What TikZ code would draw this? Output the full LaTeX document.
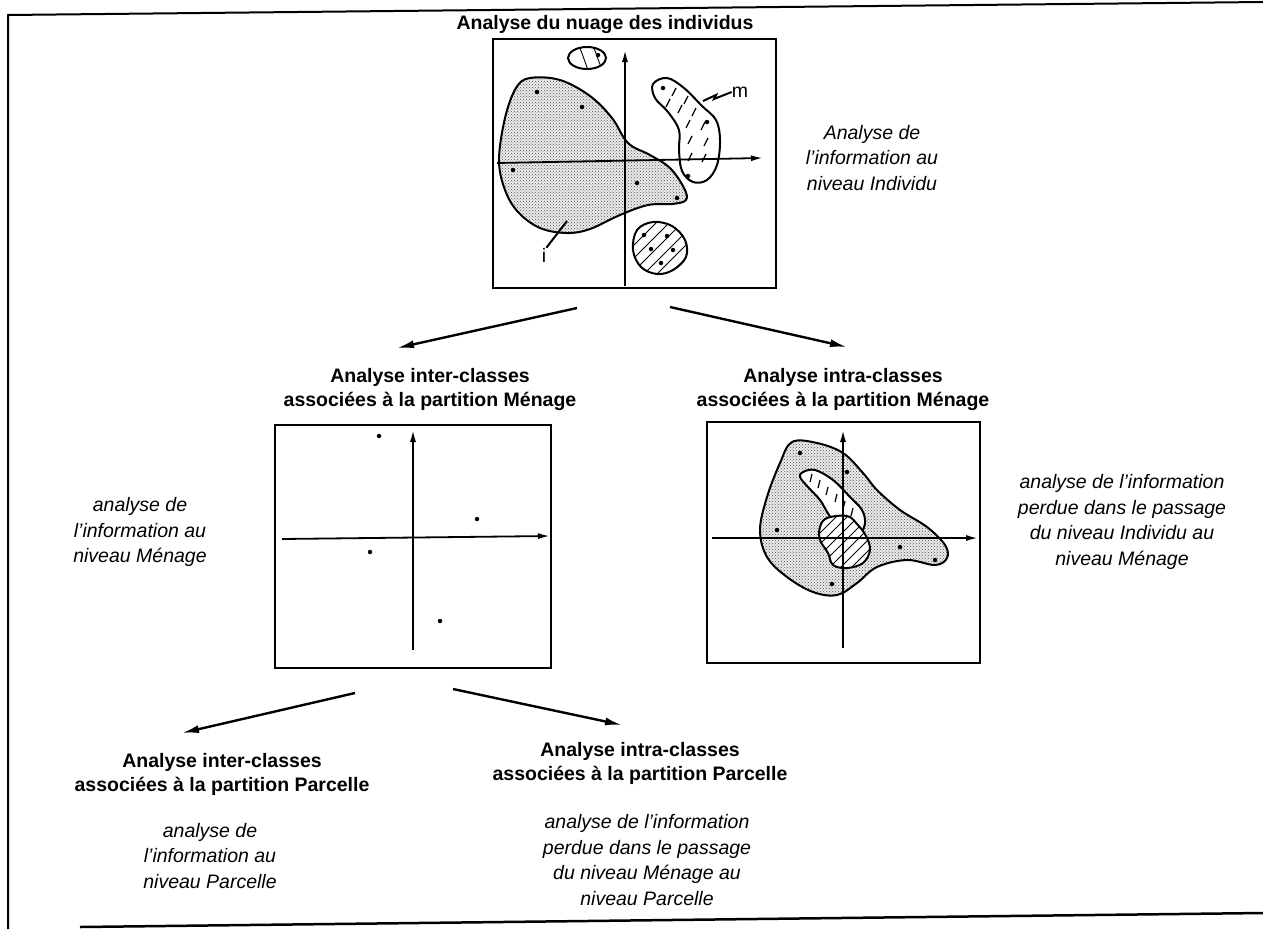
\documentclass[tikz,border=0pt]{standalone}
\usepackage{fontspec}
\setmainfont{Liberation Sans}
\usetikzlibrary{arrows.meta,patterns}
\newcommand{\apos}{\symbol{39}}
\begin{document}
\begin{tikzpicture}[x=1pt,y=-1pt,
 ttl/.style={font=\fontsize{19.5}{24}\selectfont\bfseries, align=center, inner sep=0pt},
 note/.style={font=\fontsize{19.5}{25.5}\selectfont\itshape, align=center, inner sep=0pt},
 lbl/.style={font=\fontsize{19.5}{24}\selectfont, inner sep=0pt},
 plotbox/.style={draw, line width=2pt},
 axis/.style={line width=1.8pt, -{Latex[length=12pt,width=6pt]}},
 flow/.style={line width=2.4pt, -{Latex[length=17pt,width=8pt]}},
 blob/.style={line width=2pt},
 stip/.style={preaction={fill=gray!16}, pattern=crosshatch dots, pattern color=gray!65!black},
 pt/.style={circle, fill, inner sep=0pt, minimum size=4.5pt},
 hatch/.style={line width=0.9pt},
 dsh/.style={line width=1.2pt},
]
\useasboundingbox (0,0) rectangle (1263,929);
% outer frame
\draw[line width=2pt] (1263,2) -- (8,15) -- (8,929);
\draw[line width=2.5pt] (80,927) -- (1263,913);

% ---------- top plot ----------
\node[ttl] (t0) at (605,24) {Analyse du nuage des individus};
\node[plotbox, minimum width=283pt, minimum height=249pt, inner sep=0pt] (b0) at (634.5,163.5) {};
% big stippled blob
\draw[blob, stip] plot[smooth cycle, tension=0.6] coordinates {(530,78) (560,80) (590,96) (612,118) (628,143) (650,155) (670,168) (684,188) (686,200) (672,204) (648,205) (620,215) (590,229) (567,233) (540,228) (518,212) (505,190) (499,160) (505,118) (516,88)};
\foreach \p in {(537,92),(582,107),(513,170),(637,183),(677,198)} \node[pt] at \p {};
% small top blob
\begin{scope}
\path[clip] (587,58) ellipse [x radius=19, y radius=11];
\foreach \a in {580,594} \draw[hatch] (\a,48) -- (\a+8,70);
\end{scope}
\draw[blob] (587,58) ellipse [x radius=19, y radius=11];
\node[pt] at (598,55) {};
% boomerang m
\draw[blob, fill=white] plot[smooth cycle, tension=0.6] coordinates {(653,84) (667,78) (684,88) (702,106) (716,120) (720,140) (717,165) (707,180) (693,182) (682,171) (679,150) (679,130) (668,112) (655,98)};
\foreach \x/\y in {674/92,686/100,668/103,680/109,694/112,688/124,703/126,690/140,706/142,690/157,704/158}
  \draw[dsh] (\x-2,\y+4) -- (\x+2,\y-4);
\foreach \p in {(663,88),(707,122),(688,176)} \node[pt] at \p {};
% bottom hatched egg
\begin{scope}
\path[clip] plot[smooth cycle, tension=0.6] coordinates {(637,230) (653,222) (672,226) (685,240) (686,257) (673,270) (657,274) (641,267) (633,250)};
\foreach \k in {866,879,892,905,918,931,944} \draw[hatch] (\k-285,285) -- (\k-210,210);
\end{scope}
\draw[blob] plot[smooth cycle, tension=0.6] coordinates {(637,230) (653,222) (672,226) (685,240) (686,257) (673,270) (657,274) (641,267) (633,250)};
\foreach \p in {(644,235),(667,236),(651,249),(673,250),(661,263)} \node[pt] at \p {};
% axes
\draw[axis] (625,286) -- (625,50);
\draw[axis] (497,163) -- (763,158);
% pointers
\node[lbl] (li) at (544,255) {i};
\draw[line width=2pt] (567,221) -- (li.north east);
\node[lbl] (lm) at (740,92) {m};
\draw[line width=2pt] (703,101) -- (716,95) -- (714,99) -- (lm.west);

\node[note] (n0) at (872,158) {Analyse de\\l\apos information au\\niveau Individu};

% ---------- arrows level 1 ----------
\coordinate (a1s) at (577,308);
\coordinate (a1e) at (397,348);
\coordinate (a2s) at (670,307);
\coordinate (a2e) at (847,347);
\draw[flow] (a1s) -- (a1e);
\draw[flow] (a2s) -- (a2e);

% ---------- middle left ----------
\node[ttl] (t1) at (430,389) {Analyse inter-classes\\associées à la partition Ménage};
\node[plotbox, minimum width=276pt, minimum height=243pt, inner sep=0pt] (b1) at (413,546.5) {};
\draw[axis] (413,650) -- (413,430);
\draw[axis] (282,539) -- (550,536);
\foreach \p in {(379,436),(477,519),(370,552),(440,621)} \node[pt] at \p {};
\node[note] (n1) at (140,532) {analyse de\\l\apos information au\\niveau Ménage};

% ---------- middle right ----------
\node[ttl] (t2) at (843,389) {Analyse intra-classes\\associées à la partition Ménage};
\node[plotbox, minimum width=273pt, minimum height=241pt, inner sep=0pt] (b2) at (843.5,542.5) {};
\draw[blob, stip] plot[smooth cycle, tension=0.6] coordinates {(792,442) (817,443) (843,453) (863,473) (877,490) (900,510) (927,527) (945,545) (947,558) (935,565) (907,560) (877,567) (857,583) (837,595) (813,592) (787,577) (767,557) (760,530) (767,497) (780,463)};
\foreach \p in {(800,453),(777,530),(847,472),(900,547),(935,560),(832,584)} \node[pt] at \p {};
\draw[blob, fill=white] plot[smooth cycle, tension=0.6] coordinates {(803,472) (815,470) (833,480) (850,497) (862,510) (865,523) (860,533) (848,533) (838,526) (829,515) (820,500) (808,487) (800,477)};
\foreach \x/\y in {811/478,819/484,827/491,836/498,844/505,852/512}
  \draw[dsh] (\x-1,\y+4) -- (\x+1,\y-4);
\begin{scope}
\path[clip] plot[smooth cycle, tension=0.6] coordinates {(820,527) (827,518) (847,516) (857,524) (866,536) (870,550) (863,563) (847,568) (833,565) (828,553) (820,540)};
\path[fill=white] (810,505) rectangle (880,575);
\foreach \k in {1342,1353,1364,1375,1386,1397,1408,1419,1430} \draw[hatch] (\k-575,575) -- (\k-505,505);
\end{scope}
\draw[blob] plot[smooth cycle, tension=0.6] coordinates {(820,527) (827,518) (847,516) (857,524) (866,536) (870,550) (863,563) (847,568) (833,565) (828,553) (820,540)};
\draw[axis] (843,648) -- (843,430);
\draw[axis] (712,538) -- (978,538);
\node[note] (n2) at (1122,522) {analyse de l\apos information\\perdue dans le passage\\du niveau Individu au\\niveau Ménage};

% ---------- arrows level 2 ----------
\coordinate (a3s) at (355,693);
\coordinate (a3e) at (182,733);
\coordinate (a4s) at (453,689);
\coordinate (a4e) at (622,725);
\draw[flow] (a3s) -- (a3e);
\draw[flow] (a4s) -- (a4e);

% ---------- bottom ----------
\node[ttl] (t3) at (222,774) {Analyse inter-classes\\associées à la partition Parcelle};
\node[note] (n3) at (210,856) {analyse de\\l\apos information au\\niveau Parcelle};
\node[ttl] (t4) at (640,763) {Analyse intra-classes\\associées à la partition Parcelle};
\node[note] (n4) at (647,860) {analyse de l\apos information\\perdue dans le passage\\du niveau Ménage au\\niveau Parcelle};
\end{tikzpicture}
\end{document}
